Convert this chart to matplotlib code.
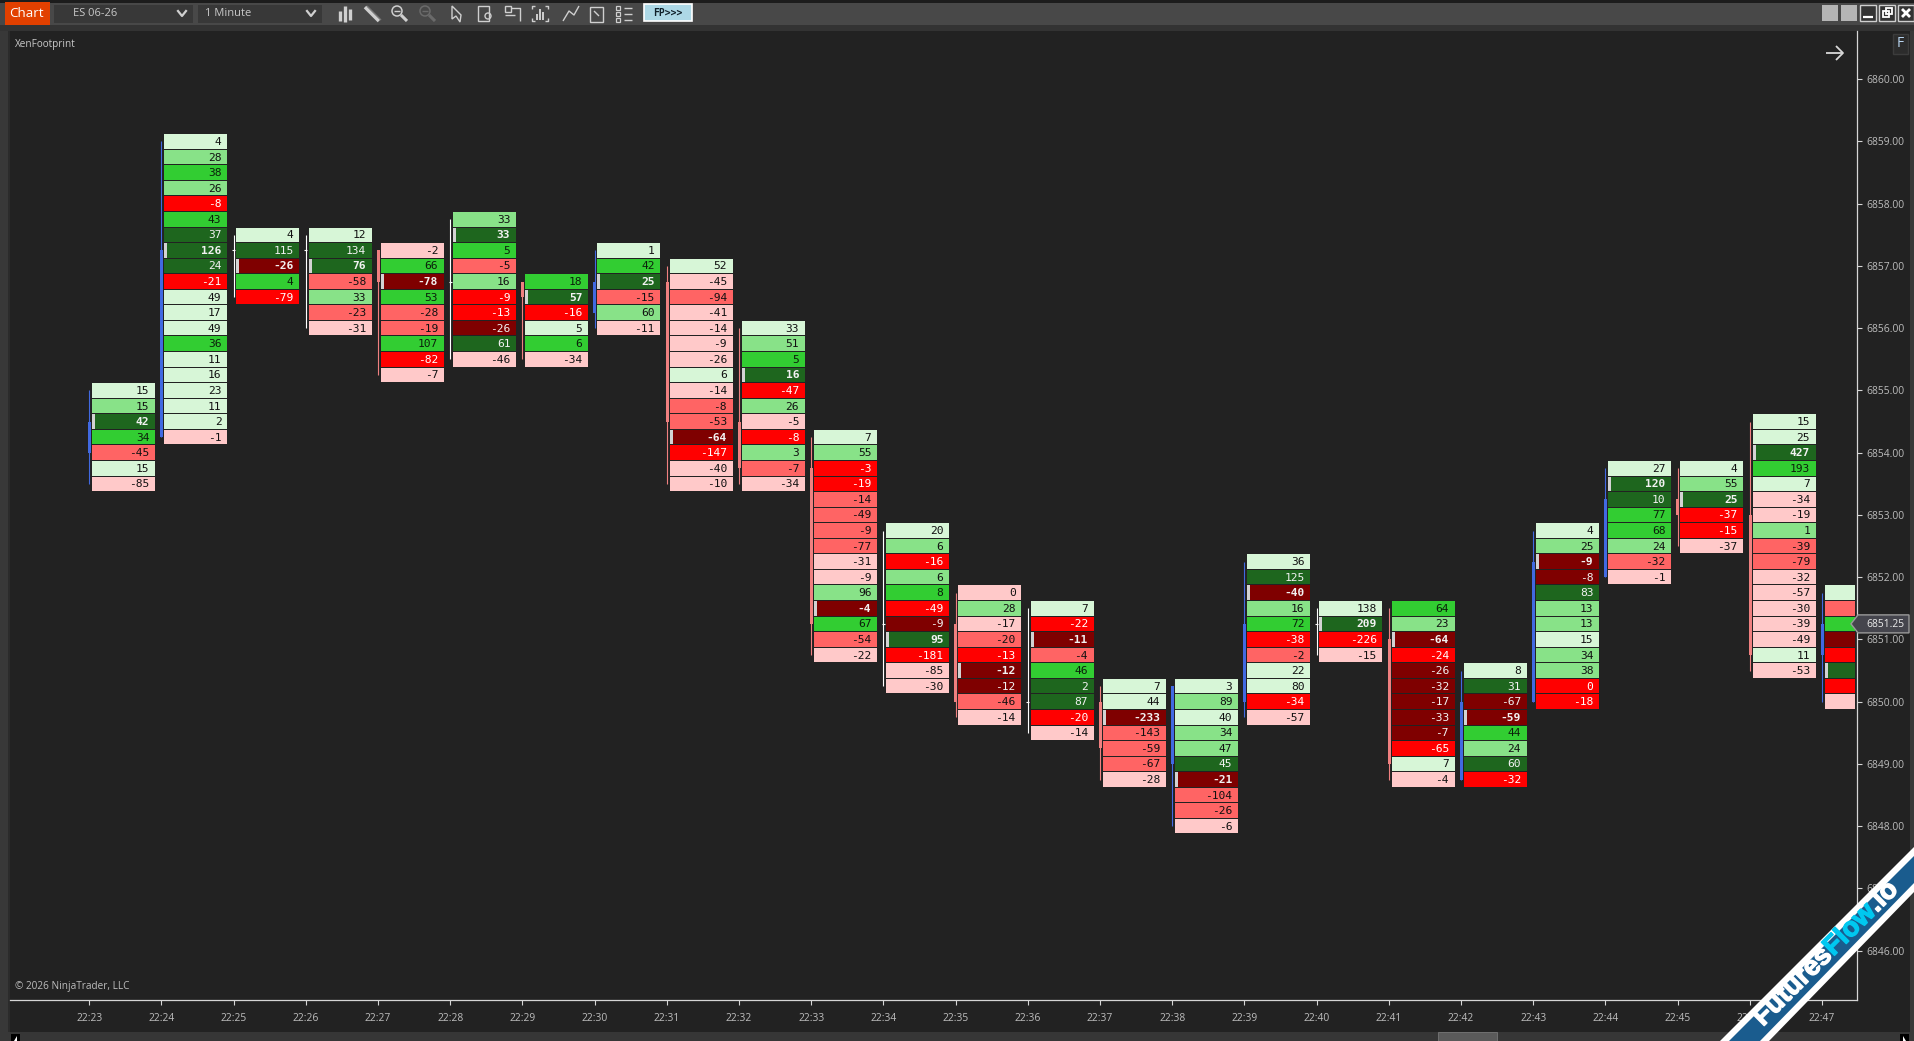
import matplotlib
matplotlib.use("Agg")
import matplotlib.pyplot as plt
from matplotlib.patches import Rectangle, Polygon, Circle
from matplotlib.font_manager import FontProperties
import matplotlib.patheffects as pe

# ---------- data ----------
minutes = ["22:%02d" % m for m in range(23, 48)]
highs = [6855, 6859, 6857.5, 6857.5, 6857.25, 6857.75, 6856.75, 6857.25, 6857, 6856, 6854.25, 6852.75, 6851.75,
         6851.5, 6850.25, 6850.25, 6852.25, 6851.5, 6851.5, 6850.5, 6852.75, 6853.75, 6853.75, 6854.5, 6851.75]
lows = [6853.5, 6854.25, 6856.5, 6856, 6855.25, 6855.5, 6855.5, 6856, 6853.5, 6853.5, 6850.75, 6850.25, 6849.75,
        6849.5, 6848.75, 6848, 6849.75, 6850.75, 6848.75, 6848.75, 6850, 6852, 6852.5, 6850.5, 6850]
opens = [6854, 6854.25, 6857.25, 6857.25, 6857.25, 6856.75, 6856.75, 6856.25, 6856.75, 6854.5, 6853.75, 6851.25,
         6851.25, 6850, 6850, 6849, 6850, 6851.25, 6851, 6848.75, 6850, 6852, 6853.25, 6853, 6850.75]
closes = [6854.5, 6857.25, 6857.25, 6857.25, 6856.75, 6856.75, 6856.5, 6856.75, 6854.5, 6853.75, 6851.25, 6851.25,
          6850, 6850, 6849.25, 6850.25, 6851.25, 6851.25, 6849, 6850, 6852.25, 6853.25, 6853, 6850.75, 6851.25]
deltas = [
    [15, 15, 42, 34, -45, 15, -85],
    [4, 28, 38, 26, -8, 43, 37, 126, 24, -21, 49, 17, 49, 36, 11, 16, 23, 11, 2, -1],
    [4, 115, -26, 4, -79],
    [12, 134, 76, -58, 33, -23, -31],
    [-2, 66, -78, 53, -28, -19, 107, -82, -7],
    [33, 33, 5, -5, 16, -9, -13, -26, 61, -46],
    [18, 57, -16, 5, 6, -34],
    [1, 42, 25, -15, 60, -11],
    [52, -45, -94, -41, -14, -9, -26, 6, -14, -8, -53, -64, -147, -40, -10],
    [33, 51, 5, 16, -47, 26, -5, -8, 3, -7, -34],
    [7, 55, -3, -19, -14, -49, -9, -77, -31, -9, 96, -4, 67, -54, -22],
    [20, 6, -16, 6, 8, -49, -9, 95, -181, -85, -30],
    [0, 28, -17, -20, -13, -12, -12, -46, -14],
    [7, -22, -11, -4, 46, 2, 87, -20, -14],
    [7, 44, -233, -143, -59, -67, -28],
    [3, 89, 40, 34, 47, 45, -21, -104, -26, -6],
    [36, 125, -40, 16, 72, -38, -2, 22, 80, -34, -57],
    [138, 209, -226, -15],
    [64, 23, -64, -24, -26, -32, -17, -33, -7, -65, 7, -4],
    [8, 31, -67, -59, 44, 24, 60, -32],
    [4, 25, -9, -8, 83, 13, 13, 15, 34, 38, 0, -18],
    [27, 120, 10, 77, 68, 24, -32, -1],
    [4, 55, 25, -37, -15, -37],
    [15, 25, 427, 193, 7, -34, -19, 1, -39, -79, -32, -57, -30, -39, -49, 11, -53],
    [None] * 8,
]
# intensity bucket of each cell: G1..G4 positive light->dark, R1..R4 negative light->dark
buckets = [
    "G1 G2 G4 G3 R2 G1 R1",
    "G1 G2 G3 G2 R3 G3 G4 G4 G4 R3 G1 G1 G1 G3 G1 G1 G1 G1 G1 R1",
    "G1 G4 R4 G3 R3",
    "G1 G4 G4 R2 G2 R2 R1",
    "R1 G3 R4 G3 R2 R2 G3 R3 R1",
    "G2 G4 G3 R2 G2 R3 R3 R4 G4 R1",
    "G3 G4 R3 G1 G3 R1",
    "G1 G3 G4 R2 G2 R1",
    "G1 R1 R2 R1 R1 R1 R1 G1 R1 R2 R2 R4 R3 R1 R1",
    "G1 G2 G3 G4 R3 G2 R1 R3 G2 R2 R1",
    "G1 G2 R3 R3 R2 R2 R2 R2 R1 R1 G2 R4 G3 R2 R1",
    "G1 G2 R3 G2 G3 R3 R4 G4 R3 R1 R1",
    "R1 G2 R1 R2 R3 R4 R4 R2 R1",
    "G1 R3 R4 R2 G3 G4 G4 R3 R1",
    "G1 G1 R4 R2 R2 R2 R1",
    "G1 G2 G1 G2 G2 G4 R4 R2 R2 R1",
    "G1 G4 R4 G2 G3 R3 R2 G1 G1 R3 R1",
    "G1 G4 R3 R1",
    "G3 G2 R4 R3 R4 R4 R4 R4 R4 R3 G1 R1",
    "G1 G4 R4 R4 G3 G2 G4 R3",
    "G1 G2 R4 R4 G4 G2 G2 G1 G2 G2 R3 R3",
    "G1 G4 G4 G3 G3 G2 R2 R1",
    "G1 G2 G4 R3 R3 R1",
    "G1 G1 G4 G3 G1 R1 R1 G2 R2 R2 R1 R1 R1 R1 R1 G1 R1",
    "G1 R2 G3 R4 R3 G4 R3 R1",
]
poc_index = [2, 7, 2, 2, 2, 1, 1, 2, 11, 3, 11, 7, 5, 2, 2, 6, 2, 1, 2, 3, 2, 1, 2, 2, 5]
price_ticks = list(range(6846, 6861))
last_price = 6851.25
tick_size = 0.25

# ---------- style ----------
FILL = {"G1": "#D7F6D7", "G2": "#88E288", "G3": "#32CD32", "G4": "#1E661E",
        "R1": "#FFC9C9", "R2": "#FF6464", "R3": "#FF0000", "R4": "#7F0000"}
TEXTC = {"G1": "#111111", "G2": "#111111", "G3": "#0b200b", "G4": "#F2F2F2",
         "R1": "#111111", "R2": "#111111", "R3": "#FFFFFF", "R4": "#F2F2F2"}
UP, DOWN, DOJI = "#4169E1", "#F08080", "#FFFFFF"
BG = "#222222"
AXC = "#D6D6D6"
LAB = "#BDBDBD"
W, H = 1915, 1041
UI = "Open Sans"

fig = plt.figure(figsize=(W / 100, H / 100), dpi=100, facecolor="#333333")

# chrome layer, pixel coordinates
ch = fig.add_axes([0, 0, 1, 1], zorder=0)
ch.set_xlim(0, W); ch.set_ylim(H, 0); ch.axis("off")
def box(x0, y0, x1, y1, fc, ec="none", lw=0, z=1):
    ch.add_patch(Rectangle((x0, y0), x1 - x0, y1 - y0, fc=fc, ec=ec, lw=lw, zorder=z))
box(0, 0, W, 3, "#1c1c1c")
box(0, 3, W, 25, "#484848")
box(0, 25, W, 31, "#333333")
box(0, 31, W, H, "#383838")
box(8, 31, 1910, 1032, BG)
box(8, 31, 10, 1032, "#2b2b2b")
box(10, 1032, 1910, H, "#363636")
box(1438, 1032, 1497, H, "#5a5a5a", ec="#707070", lw=0.7)
box(11, 1034, 20, H, "#000000")
box(1900, 1034, 1909, H, "#000000")
ch.add_patch(Polygon([[14, 1041], [17, 1036], [17, 1041]], fc="white", zorder=2))
ch.add_patch(Polygon([[1903, 1036], [1903, 1041], [1906, 1041]], fc="white", zorder=2))
box(5, 2, 50, 25, "#E24000")
ch.text(26, 13.5, "Chart", color="white", fontsize=9.6, family=UI, ha="center", va="center")
for x0, x1, s, off in [(54, 193, "ES 06-26", 19), (198, 322, "1 Minute", 7)]:
    box(x0, 5, x1, 23, "#383838")
    ch.text(x0 + off, 13.5, s, color="#C8C8C8", fontsize=8, family=UI, va="center")
    ch.plot([x1 - 15, x1 - 11, x1 - 7], [11, 16, 11], color="#D0D0D0", lw=1.6)
box(644, 4, 692, 21, "#ADD8E6", ec="white", lw=1.2)
ch.text(668, 13, "FP>>>", color="#10202a", fontsize=7, family="DejaVu Sans Mono", ha="center", va="center", weight="bold")

# toolbar icons: rough line drawings
IC = "#CFCFCF"
def ln(xs, ys, c=IC, lw=1.0, a=ch):
    a.plot(xs, ys, color=c, lw=lw, solid_capstyle="butt")
for dx, a_, b_ in [(340, 11, 21), (345, 6, 22), (350, 9, 20)]:
    ln([dx, dx], [a_, b_], lw=2.4)
ln([365, 379], [7, 21], lw=2.6); ln([367, 381], [6, 20], c="#777777", lw=1)
for cx, c in [(397, IC), (425, "#6a6a6a")]:
    ch.add_patch(Circle((cx, 11), 5, fc="none", ec=c, lw=1.1))
    ln([cx + 4, cx + 10], [15, 21], c=c, lw=2.2)
    ln([cx - 3, cx + 3], [11, 11], c=c)
ch.add_patch(Polygon([[452, 6], [452, 19], [456, 16], [460, 22], [461, 15]], fc="none", ec=IC, lw=1))
ch.add_patch(Rectangle((478, 6), 11, 15, fc="none", ec=IC, lw=1))
ch.add_patch(Circle((488, 16), 3, fc="none", ec=IC, lw=1))
ch.add_patch(Rectangle((505, 6), 6, 6, fc="none", ec=IC, lw=1))
ln([511, 520, 520], [8, 8, 21]); ln([505, 515], [15, 15])
ln([532, 532, 535], [9, 6, 6]); ln([545, 548, 548], [6, 6, 9]); ln([532, 532, 535], [18, 21, 21]); ln([545, 548, 548], [21, 21, 18])
for x, t in [(537, 14), (540, 9), (543, 12)]:
    ln([x, x], [t, 20], lw=1.4)
ln([563, 569, 574, 579], [21, 11, 15, 6])
ch.add_patch(Rectangle((590, 7), 13, 15, fc="none", ec=IC, lw=1))
ln([594, 599], [11, 16])
for y in [8, 14, 20]:
    ch.add_patch(Rectangle((616, y - 2), 4, 4, fc="none", ec=IC, lw=0.9))
    ln([624, 632], [y, y])
for x0 in (1822, 1841):
    box(x0, 5, x0 + 16, 21, "#B5B5B5")
for x0 in (1860, 1879, 1898):
    box(x0, 5, x0 + 16, 21, "#333333", ec="#CFCFCF", lw=1)
ln([1863, 1873], [17, 17], c="white", lw=1.6)
ch.add_patch(Rectangle((1883, 11), 6, 6, fc="none", ec="white", lw=1.3))
ch.add_patch(Rectangle((1886, 8), 6, 6, fc="none", ec="white", lw=1.3))
ln([1902, 1910], [9, 17], c="white", lw=2); ln([1902, 1910], [17, 9], c="white", lw=2)
box(1893, 34, 1908, 54, "#2c2c2c", ec="#3c3c3c", lw=1)
ch.text(1900.5, 43.5, "F", color="#B8D4F0", fontsize=10, family=UI, ha="center", va="center")

# price/time panel
L, R, T, B = 10, 1857, 31, 1000
ax = fig.add_axes([L / W, 1 - B / H, (R - L) / W, (B - T) / H], zorder=2, facecolor=BG)
PX_BAR, X0 = 72.2, 89.3
PX_PT, Y0 = 62.25, 701.7
ax.set_xlim((L - X0) / PX_BAR, (R - X0) / PX_BAR)
ax.set_ylim(6850 + (Y0 - B) / PX_PT, 6850 + (Y0 - T) / PX_PT)
px = 1 / PX_BAR
CELL_L, CELL_W = 2.7 * px, 63 * px
CELLS_END = (1855 - X0) / PX_BAR
gap = 1 / PX_PT

for i, (hi, vals, bk, poc) in enumerate(zip(highs, deltas, buckets, poc_index)):
    codes = bk.split()
    x = i + CELL_L
    w = min(CELL_W, CELLS_END - x)
    for k, (v, c) in enumerate(zip(vals, codes)):
        p = hi - k * tick_size
        ax.add_patch(Rectangle((x, p - tick_size / 2 + gap / 2), w, tick_size - gap, fc=FILL[c], ec="none", zorder=3))
        if k == poc:
            ax.add_patch(Rectangle((x, p - tick_size / 2 + gap / 2), 3 * px, tick_size - gap, fc="#D3D3D3", ec="none", zorder=4))
        if v is not None:
            ax.text(x + w - 5.7 * px, p - 0.008, str(v), ha="right", va="center", color=TEXTC[c],
                    fontsize=8.1, family="DejaVu Sans Mono", weight="bold" if k == poc else "normal", zorder=5)
    o, cl = opens[i], closes[i]
    col = UP if cl > o else DOWN if cl < o else DOJI
    ax.vlines(i, lows[i], hi, color=col, lw=0.8, zorder=2, snap=True)
    if cl == o:
        ax.hlines(o, i - 1.5 * px, i + 1.5 * px, color=col, lw=0.8, zorder=2, snap=True)
    else:
        ax.add_patch(Rectangle((i - 1.3 * px, min(o, cl)), 3 * px, abs(cl - o), fc=col, ec="none", zorder=2))

for s in ("left", "top"):
    ax.spines[s].set_visible(False)
for s in ("right", "bottom"):
    ax.spines[s].set_color(AXC); ax.spines[s].set_linewidth(0.9)
ax.yaxis.tick_right()
ax.set_yticks(price_ticks)
ax.set_yticklabels(["%.2f" % p for p in price_ticks], family=UI, fontsize=7.4, color=LAB)
ax.set_xticks(range(len(minutes)))
ax.set_xticklabels(minutes, family=UI, fontsize=7.4, color=LAB)
ax.tick_params(axis="y", length=3.5, width=0.8, color=AXC, pad=3)
ax.tick_params(axis="x", length=3.5, width=0.8, color=AXC, pad=6)

ov = fig.add_axes([0, 0, 1, 1], zorder=5, facecolor="none")
ov.set_xlim(0, W); ov.set_ylim(H, 0); ov.axis("off")
ov.text(15, 45, "XenFootprint", color="#C8C8C8", fontsize=7.2, family=UI, va="center")
ov.text(15.5, 986, "© 2026 NinjaTrader, LLC", color="#BDBDBD", fontsize=7.2, family=UI, va="center")
ln([1826, 1843], [53, 53], c="#D8D8D8", lw=1.3, a=ov)
ln([1836, 1843, 1836], [46, 53, 60], c="#D8D8D8", lw=1.3, a=ov)

# current price flag
yp = H - ax.transData.transform((0, last_price))[1]
ov.add_patch(Polygon([[1851, yp], [1858, yp - 9], [1909, yp - 9], [1909, yp + 9], [1858, yp + 9]],
                     fc="#45454D", ec="#9A9A9A", lw=1, zorder=6))
ov.text(1866, yp + 0.5, "%.2f" % last_price, color="#EDEDED", fontsize=7.4, family=UI, va="center", zorder=7)

# corner banner
ov.add_patch(Polygon([[1720, H], [1915, 846], [1915, 891], [1769, H]], fc="white", ec="none", zorder=8))
ov.add_patch(Polygon([[1729, H], [1915, 855], [1915, 882], [1760, H]], fc="#1A5C8E", ec="none", zorder=9))
fp = FontProperties(family="Liberation Sans", weight="bold", size=19.5)
rend = fig.canvas.get_renderer()
sx, sy = 1758, 1022
for s, c in [("Futures", "white"), ("Flow", "#00C8F0"), (".io", "white")]:
    t = ov.text(sx, sy, s, color=c, fontproperties=fp, rotation=45, rotation_mode="anchor",
                ha="left", va="center", zorder=10)
    t.set_path_effects([pe.withStroke(linewidth=1.0, foreground=c)])
    wd = rend.get_text_width_height_descent(s, fp, False)[0]
    sx += wd * 0.7071; sy -= wd * 0.7071

fig.savefig("out.png", dpi=100, facecolor=fig.get_facecolor())
